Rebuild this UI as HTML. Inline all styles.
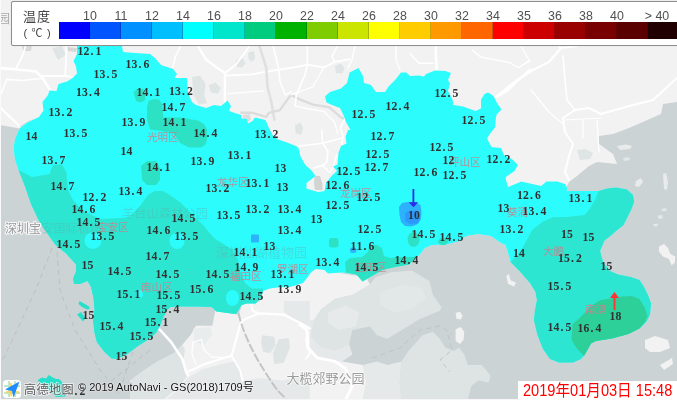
<!DOCTYPE html>
<html lang="zh"><head><meta charset="utf-8"><title>深圳气温分布图</title>
<style>
html,body{margin:0;padding:0;background:#f2f2f2;}
body{width:677px;height:400px;overflow:hidden}
#map{width:677px;height:400px;overflow:hidden;position:relative;background:#f2f2f2;font-family:"Liberation Sans","Noto Sans CJK SC",sans-serif;}
svg{position:absolute;left:0;top:0;display:block}
#legend{position:absolute;left:11px;top:1px;width:680px;height:43px;background:#fff;border:1px solid #8e8e8e;border-radius:2px;box-sizing:content-box;box-shadow:0 0 1px rgba(0,0,0,.2)}
#legend i{position:absolute;top:20.2px;height:16.6px;width:31px;margin-left:-12px;display:block;box-shadow:inset -1px 0 0 rgba(0,0,0,.2)}
#legend b{position:absolute;top:6.6px;width:30px;margin-left:-12px;text-align:center;font-weight:normal;font-size:12.4px;line-height:14px;color:#505050;letter-spacing:0}
#legend .t{position:absolute;left:11px;font-size:14px;line-height:16px;color:#444;white-space:nowrap}
#stamp{position:absolute;left:518px;top:381px;width:160px;height:19px;background:#fff;color:#f00;font-size:14.6px;line-height:20px;white-space:nowrap;text-indent:5px;letter-spacing:0}
#copy{position:absolute;left:78px;top:380px;font-size:11px;line-height:14px;color:#111;white-space:nowrap;text-shadow:0 0 1px #fff,0 0 2px #fff}
</style></head><body>
<div id="map">
<svg width="677" height="400" viewBox="0 0 677 400">
<rect width="677" height="400" fill="#f2f2f2"/>
<g id="bg">
<polygon points="0,125 19.5,128.5 30,150 60,200 100,260 163,300 260,300 260,400 0,400" fill="#ccd3d5"/>
<polygon points="355,270 677,270 677,102 663,104 661,114 629,128 613,134 599,136 599,144 613,154 617,164 597,162 589,166 577,176 569,182 567,186 560,200 500,230 430,240 400,262" fill="#ccd3d5"/>
<rect x="340" y="268" width="337" height="132" fill="#ccd3d5"/>
<polygon points="300,298.5 321,309 335,298.5 352.4,295 369.9,284.5 375.2,277.5 390.9,272.2 411.9,270.5 420.6,275.7 429.4,281 432.9,295 441.6,307.2 439.9,310.7 418.9,319.4 404.9,328.2 387.4,338.7 376.9,335.2 369.9,326.4 352.4,329.9 349,343.9 335,350.9 321,347.4 310.5,336.9 300,340.4" fill="#dee3e3"/>
<polygon points="300,298.5 321,309 314,319.4 310.5,336.9 321,347.4 335,350.9 349,343.9 352.4,354.4 342,361.4 321,359.7 307,347.4 300,343.9" fill="#e5e9e9"/>
<polygon points="401.4,361.4 408.4,350.9 422.4,335.2 432.9,331.7 439.9,338.7 445.1,347.4 453.8,350.9 459.1,347.4 464.3,354.4 467.8,364.9 481.8,364.9 490.6,375.4 488.8,382.4 478.3,380.6 471.3,385.9 467.8,399.9 401.4,399.9 399.7,382.4" fill="#dee3e3"/>
<polygon points="362.9,364.9 376.9,361.4 387.4,364.9 401.4,361.4 399.7,382.4 401.4,399.9 362.9,399.9 366.4,382.4" fill="#e5e9e9"/>
<polygon points="300,361.4 321,359.7 342,361.4 362.9,364.9 366.4,382.4 362.9,399.9 300,399.9" fill="#f2f2f2"/>
<polygon points="300,284.5 310.5,272.2 324.5,270.5 345.5,274 366.4,277.5 369.9,284.5 352.4,295 335,298.5 321,309 314,319.4 300,322.9" fill="#f2f2f2"/>
<polygon points="380.4,291.5 404.9,284.5 422.4,288 425.9,298.5 411.9,309 394.4,312.4 380.4,305.5" fill="#e2e7e7"/>
<polygon points="328,312.4 345.5,305.5 359.4,312.4 355.9,326.4 338.5,329.9 328,322.9" fill="#e6eaea"/>
<polygon points="455.6,313.1 460.1,311.7 462.6,315.9 460.8,319.4 456.6,318.7" fill="#f2f2f2"/>
<polygon points="455.6,329.2 460.8,327.1 464.3,331.7 463.6,339.7 460.1,343.9 455.6,341.1" fill="#f2f2f2"/>
<polygon points="506.3,275.7 509.1,274 510.5,280.3 516.1,282.7 514,286.6 508,283.8" fill="#f2f2f2"/>
<polygon points="130,380.7 141,372.4 157.5,361.4 174,353.2 182.2,344.9 190.4,335.3 195.9,325.7 212.4,325.7 215.2,310.6 238.5,314.7 242.6,303.7 250.9,302.4 261.9,301 309.9,301 309.9,399.9 130,399.9" fill="#f2f2f2"/>
<polygon points="130,380.7 141,372.4 157.5,361.4 174,353.2 182.2,344.9 184.9,349.1 183.6,361.4 187.7,375.2 179.5,386.2 163,399.9 130,399.9" fill="#dee3e3"/>
<polygon points="187.7,377.9 201.4,369.7 220.7,364.2 234.4,361.4 239.9,372.4 242.6,388.9 239.9,399.9 165.7,399.9 179.5,388.9" fill="#e5e9e9"/>
<polygon points="261.9,335.3 274.2,336.7 275.6,344.9 270.1,353.2 263.2,351.8 261.3,343.6" fill="#dee3e3"/>
<polygon points="278.4,339.5 288.8,338.1 289.9,347.7 283.8,362.8 274.2,364.2 272.9,353.2" fill="#dee3e3"/>
<polygon points="242.6,380.7 259.1,377.9 283.8,380.7 300.3,375.2 309.9,372.4 309.9,399.9 239.9,399.9" fill="#e5e9e9"/>
<polygon points="283.8,301 309.9,301 309.9,331.2 300.3,325.7 292.1,317.5 283.8,312" fill="#e5e9e9"/>
<polygon points="193.2,328.5 209.7,327.1 212.4,334 204.2,344.9 194.6,342.2" fill="#e8ecec"/>
<polygon points="617,146 626,144.5 632,146 630,149 620,150" fill="#e9ebeb"/>
<polygon points="636,181 641,178 643,182 639,187 635,186" fill="#e9ebeb"/>
<polygon points="663,174 666,173 668,182 667,190 664,189" fill="#e9ebeb"/>
<polygon points="623,158 629,157 630,160 624,161" fill="#e3e6e6"/>
<polygon points="659,246.5 664,244 667.8,247.7 670.3,254 675.3,256.5 674.8,262.8 671.6,265.3 669.1,259 662.8,256.5 659,251.5" fill="#f2f2f2"/>
<polygon points="653.5,224.1 657.8,223.4 658,226.1 654,226.6" fill="#e6e8e8"/>
<polygon points="661.5,208.8 666.3,208.3 666.5,211.1 662,211.3" fill="#e6e8e8"/>
<polygon points="657.8,215.6 662.3,215.1 662.8,218.6 658.3,218.8" fill="#e6e8e8"/>
<polygon points="645,340 655,336 668,340 670,348 660,352 650,352 645,348" fill="#f2f2f2"/>
<polygon points="660,365 672,358 673,364 664,370" fill="#f2f2f2"/>
<polygon points="192,77.1 200.2,75.7 205.7,84 204.3,94.9 207.1,103.2 198.8,104.6 193.4,94.9" fill="#dfe5e5"/>
<polygon points="208.5,85.3 215.3,82.6 220.8,88.1 218.1,93.6 211.2,92.7" fill="#dfe5e5"/>
<polygon points="235.9,60.6 242.8,57.9 245.5,63.4 242,67.5 236.8,66.9" fill="#dfe5e5"/>
<polygon points="248.3,52.4 253.8,51 255.2,57.9 251.9,62 248.6,58.7" fill="#dfe5e5"/>
<polygon points="334.8,66.1 340.3,63.4 344.5,67.5 342.5,73.5 336.2,73" fill="#dfe5e5"/>
<polygon points="295,125.2 300.5,122.4 303.2,127.9 301.3,134.8 295.8,133.4" fill="#dfe5e5"/>
<polygon points="242.8,114.7 249.7,114.2 251,119.7 246.4,123 242.8,120.2" fill="#dcdcdc"/>
<polygon points="577,150 585,149 593,153 590,159 580,160" fill="#dfe5e5"/>
<polygon points="52,48 62,46 66,55 58,60" fill="#dfe5e5"/>
<polygon points="22,46 32,46 31,51 23,51" fill="#dadada"/>
<polygon points="67,47 77,48 76,52 68,51" fill="#d6d6d6"/>
<polygon points="314.5,176 320,176 322.5,184 322.5,190 315,190 314,184" fill="#d2d4d4"/>
<path d="M0 68.1 L15.7 69.2 L36 71.5 L42.7 78.2 L50.6 90.6" stroke="#fff" stroke-width="2.6" fill="none" stroke-linecap="round" stroke-linejoin="round" />
<path d="M15.7 69.2 L22.5 55.7 L24.7 49 L25.9 44.5" stroke="#fff" stroke-width="1.8" fill="none" stroke-linecap="round" stroke-linejoin="round" />
<path d="M0 96.2 L6.7 79.4 L22.5 80.5 L42.7 78.2" stroke="#fff" stroke-width="1.6" fill="none" stroke-linecap="round" stroke-linejoin="round" />
<path d="M42.7 76 L65.2 76 L74.2 77.1" stroke="#fff" stroke-width="1.8" fill="none" stroke-linecap="round" stroke-linejoin="round" />
<path d="M66.4 44.5 L66.4 49 L65.2 76" stroke="#fff" stroke-width="1.8" fill="none" stroke-linecap="round" stroke-linejoin="round" />
<path d="M0 107.5 L20.2 126.6" stroke="#fff" stroke-width="2.2" fill="none" stroke-linecap="round" stroke-linejoin="round" />
<path d="M20.2 126.6 L29.2 121.4 L40.5 117.6" stroke="#dcdcdc" stroke-width="1.4" fill="none" stroke-linecap="round" stroke-linejoin="round" />
<path d="M181 45.5 L175.5 56.5 L172.7 67.5" stroke="#fff" stroke-width="1.6" fill="none" stroke-linecap="round" stroke-linejoin="round" />
<path d="M197.5 45.5 L205.7 59.2 L216.7 67.5 L224.9 73 L224.9 103.2" stroke="#fff" stroke-width="2.4" fill="none" stroke-linecap="round" stroke-linejoin="round" />
<path d="M224.9 73 L235.9 64.7 L244.2 53.7 L249.7 45.5" stroke="#fff" stroke-width="1.8" fill="none" stroke-linecap="round" stroke-linejoin="round" />
<path d="M224.9 75.7 L252.4 74.3 L266.2 71.6 L293.6 67.5 L307.4 64.7 L323.8 67.5 L334.8 62 L349.9 59.2" stroke="#fff" stroke-width="1.8" fill="none" stroke-linecap="round" stroke-linejoin="round" />
<path d="M259.3 45.5 L266.2 67.5 L267.5 86.7 L271.6 103.2 L274.4 119.7" stroke="#e0e0e0" stroke-width="2.6" fill="none" stroke-linecap="round" stroke-linejoin="round" />
<path d="M273 45.5 L278.5 67.5 L279.9 81.2 L285.4 94.9 L290.9 92.2" stroke="#fff" stroke-width="1.6" fill="none" stroke-linecap="round" stroke-linejoin="round" />
<path d="M241.4 112.8 L252.4 112.8 L266.2 116.9 L268.9 112.8 L279.9 110.1 L290.9 94.9 L299.1 99.1 L312.9 104.6 L329.3 107.3 L340.3 116.9 L345.8 119.7" stroke="#dcdcdc" stroke-width="2.4" fill="none" stroke-linecap="round" stroke-linejoin="round" />
<path d="M307.4 45.5 L307.4 64.7 L304.6 75.7 L296.4 94.9 L295 105.9" stroke="#fff" stroke-width="1.6" fill="none" stroke-linecap="round" stroke-linejoin="round" />
<path d="M337.6 45.5 L332.1 56.5 L334.8 62" stroke="#fff" stroke-width="1.6" fill="none" stroke-linecap="round" stroke-linejoin="round" />
<path d="M345.8 116.9 L340.3 127.9 L343.1 136.2 L341.7 144.4" stroke="#fff" stroke-width="1.6" fill="none" stroke-linecap="round" stroke-linejoin="round" />
<path d="M227.7 93.6 L246.9 92.2 L263.4 90.8" stroke="#fff" stroke-width="1.2" fill="none" stroke-linecap="round" stroke-linejoin="round" />
<path d="M290.9 94.9 L312.9 86.7 L323.8 67.5" stroke="#fff" stroke-width="1.2" fill="none" stroke-linecap="round" stroke-linejoin="round" />
<path d="M295 105.9 L307.4 108.7 L323.8 111.4 L334.8 122.4 L337.6 133.4" stroke="#fff" stroke-width="1.4" fill="none" stroke-linecap="round" stroke-linejoin="round" />
<path d="M299.5 146 L322.6 143.3 L342.1 138" stroke="#fff" stroke-width="1.6" fill="none" stroke-linecap="round" stroke-linejoin="round" />
<path d="M321.7 130 L322.6 143.3 L327.9 151.3 L327 161.9 L322.6 165.5 L313.7 168.1" stroke="#fff" stroke-width="1.6" fill="none" stroke-linecap="round" stroke-linejoin="round" />
<path d="M322.6 165.5 L329.6 172.6 L333.2 167.2 L336.7 154.8" stroke="#fff" stroke-width="1.4" fill="none" stroke-linecap="round" stroke-linejoin="round" />
<path d="M435.7 44.7 L435.7 50 L436.6 69.5" stroke="#fff" stroke-width="2.4" fill="none" stroke-linecap="round" stroke-linejoin="round" />
<path d="M410 53.5 L418.9 63.3 L433 63.3" stroke="#fff" stroke-width="1.4" fill="none" stroke-linecap="round" stroke-linejoin="round" />
<path d="M472.1 50 L480.9 57.1 L509.3 62.4 L518.2 67.7 L530 60.6" stroke="#fff" stroke-width="1.4" fill="none" stroke-linecap="round" stroke-linejoin="round" />
<path d="M530 69.5 L516.4 81.9 L507.5 90.8 L495.1 97.9" stroke="#fff" stroke-width="2.2" fill="none" stroke-linecap="round" stroke-linejoin="round" />
<path d="M396 46 L396 60 L400 70" stroke="#fff" stroke-width="1.4" fill="none" stroke-linecap="round" stroke-linejoin="round" />
<path d="M355 46 L352 60 L348 68" stroke="#fff" stroke-width="1.4" fill="none" stroke-linecap="round" stroke-linejoin="round" />
<path d="M561 48 L549 62 L533 70 L517 80 L497 96" stroke="#fff" stroke-width="2.2" fill="none" stroke-linecap="round" stroke-linejoin="round" />
<path d="M557 44 L561 48 L577 46" stroke="#fff" stroke-width="2" fill="none" stroke-linecap="round" stroke-linejoin="round" />
<path d="M563 56 L565 80 L567 100 L575 110" stroke="#fff" stroke-width="1.6" fill="none" stroke-linecap="round" stroke-linejoin="round" />
<path d="M563 118 L575 110 L589 108 L601 114 L629 106 L653 100 L677 78" stroke="#fff" stroke-width="2" fill="none" stroke-linecap="round" stroke-linejoin="round" />
<path d="M563 118 L565 132 L573 144 L569 156 L565 172 L569 180" stroke="#fff" stroke-width="2" fill="none" stroke-linecap="round" stroke-linejoin="round" />
<path d="M565 120 L601 118" stroke="#fff" stroke-width="1.2" fill="none" stroke-linecap="round" stroke-linejoin="round" />
<path d="M583 120 L583 138" stroke="#fff" stroke-width="1.2" fill="none" stroke-linecap="round" stroke-linejoin="round" />
<path d="M597 120 L599 152" stroke="#fff" stroke-width="1.2" fill="none" stroke-linecap="round" stroke-linejoin="round" />
<path d="M531 90 L549 112 L563 124" stroke="#fff" stroke-width="1.4" fill="none" stroke-linecap="round" stroke-linejoin="round" />
<path d="M521 46 L529 60 L525 64" stroke="#fff" stroke-width="1.2" fill="none" stroke-linecap="round" stroke-linejoin="round" />
<path d="M158.8 328.5 L171.2 342.2 L182.2 358.7 L186.3 372.4 L187.7 375.2" stroke="#fff" stroke-width="2.6" fill="none" stroke-linecap="round" stroke-linejoin="round" />
<path d="M186.3 372.4 L204.2 364.2 L226.2 357.3 L231.6 355.9 L239.9 325.7 L242.6 320.2 L259.1 313.4 L283.8 314.7 L300.3 323 L309.9 328.5" stroke="#fff" stroke-width="2.2" fill="none" stroke-linecap="round" stroke-linejoin="round" />
<path d="M231.6 355.9 L239.9 369.7 L242.6 380.7" stroke="#fff" stroke-width="1.8" fill="none" stroke-linecap="round" stroke-linejoin="round" />
<path d="M193.2 342.2 L201.4 339.5 L204.2 350.4 L212.4 357.3 L226.2 357.3" stroke="#fff" stroke-width="1.2" fill="none" stroke-linecap="round" stroke-linejoin="round" />
<path d="M193.2 342.2 L191.8 353.2 L195.9 364.2" stroke="#fff" stroke-width="1.2" fill="none" stroke-linecap="round" stroke-linejoin="round" />
<path d="M250.9 302.4 L252.3 310.6 L259.1 313.4" stroke="#fff" stroke-width="2" fill="none" stroke-linecap="round" stroke-linejoin="round" />
<path d="M305.8 339.5 L309.9 353.2 L305.8 358.7" stroke="#fff" stroke-width="1.8" fill="none" stroke-linecap="round" stroke-linejoin="round" />
<path d="M238.5 313 C242 330 252 352 267 375 S280 392 286 399" stroke="#c4c6c6" stroke-width="2" fill="none" stroke-dasharray="9 2"/>
<path d="M300 324.7 L307 329.9 L307.7 347.4 L317.5 357.9 L335 361.4 L345.5 368.4 L352.4 385.9 L345.5 399.9" stroke="#fff" stroke-width="3" fill="none" stroke-linecap="round" stroke-linejoin="round" />
<path d="M52 248 L37 287 L10 345 L0 365 M57 252 L60 290 L75 330 L100 370 L120 395 M150 350 L100 390 M133 352 L120 390" stroke="#bcbcbe" stroke-width="0.9" fill="none" stroke-dasharray="5 4"/>
<path d="M372 358 L400 348 L420 330 L440 326 L452 334 M448 335 L452 350 L440 360 L450 372" stroke="#bfc4c4" stroke-width="1" fill="none" stroke-dasharray="5 4"/>
</g>
<polygon points="77,40 122,40 122,46 123,52 135.5,53 150,54 155,58 161,65 173,69 177,74 174.5,78 187,78 188,93 192,102 196,105 206,108 214,105 221,106 227.5,100.5 231,106 229,111 241,115 241.5,118.5 247,119 248,123.5 252.5,121 255,117.5 265.5,120 268.5,127 272.5,135 278,139.5 287,142.5 296,146 298.5,148 300.5,156.5 305,164.5 312,171 315.5,176 306.5,183 306.5,188.5 318,192 324.5,191 326,183 331.5,176 337,171 333,166.5 337.5,164.5 338.5,153 341,146 346.5,143.5 345.5,137 348,130 350.5,130 346,122 343.5,115 340,108 332,105 326.5,102.5 325,96.5 330,92 341,88.5 347,83 349.5,72.5 358.5,68 363,76 364,83 371,85 376,92 385,92 388.5,86.5 395.5,79.5 401,72.5 406.5,72.5 410,76 419,75.5 424,76.5 426,74 435,70.5 445.5,71 451,73 448,80 450,83.5 448,91 452.5,99.5 453.5,105 463,106.5 475.5,111 481,108.5 481,99.5 484.5,94 488,92.5 493.5,96 497,103 501.5,109.5 497,114 496,117 495,127.5 490.5,133 487,138.5 491.5,147 501,148 504,155 512.5,159.5 518,165 514.5,171 506.5,176.5 505.5,178 508,187 521.5,181.5 541,186 546.5,181.5 557.5,181.5 565,184 567.5,188.5 566.5,191 598.5,191 607.5,188.5 616,187.5 627,189.5 633,195 634,202 631.5,209 627,218 623.5,225 616,231 611,235.5 604.5,240.5 600,251 603,262 610,271 618,274.5 630.5,277 639.5,280 643.5,286 648,295 651,303.5 650,314.5 646.5,321.5 639.5,328.5 628.5,334 612,338.5 596,341 591,343.5 588,349 584.5,355 581,359 573,362.5 559,362.5 550,359 543,349 537.5,335 534,320.5 535,310 537,300 535.5,292 530,283 519.5,271 510.5,262 508,253 505.5,245 500,242.5 491,236 478,234 466,236 460,241 446.5,244.5 432,245 425,248 418,256.5 409,264.5 393,267.5 382.5,270 373,275.5 362.5,281.5 356.5,274.5 342,272.5 328,273.5 324.5,270 315.5,269 311,272.5 307,278 303,283 290,287 277,287.5 270,288.5 263,291 261,298 255.5,303.5 247,303.5 241.5,305 239,309.5 236,314 227.5,313 216.5,311.5 211.5,307 195.5,306.5 180,306.5 170.5,307 166.5,311 163,318 160,326 156,333 148.5,339.5 138,346 127.5,354 117,359 111.5,358.5 104.5,352 97,342.5 94.5,333 93,321 94.5,310 93.5,298 91,287 87.5,281 80,284 74,284 73,278.5 76,271.5 76,264.5 66,253.5 55.5,245 46.5,232.5 38.5,220 31,204 25,186.5 18.5,170 15,160 13.5,148 15,139 19.5,128.5 26.5,123 39,117 43.5,110.5 42.5,102 48,95 49.5,90.5 56.5,91 58.5,84 67,81.5 72.5,78 77,73.5 76,66.5 73.5,61 77,54" fill="#f2f2f2"/>
<g id="ov" opacity="0.81">
<polygon points="77,40 122,40 122,46 123,52 135.5,53 150,54 155,58 161,65 173,69 177,74 174.5,78 187,78 188,93 192,102 196,105 206,108 214,105 221,106 227.5,100.5 231,106 229,111 241,115 241.5,118.5 247,119 248,123.5 252.5,121 255,117.5 265.5,120 268.5,127 272.5,135 278,139.5 287,142.5 296,146 298.5,148 300.5,156.5 305,164.5 312,171 315.5,176 306.5,183 306.5,188.5 318,192 324.5,191 326,183 331.5,176 337,171 333,166.5 337.5,164.5 338.5,153 341,146 346.5,143.5 345.5,137 348,130 350.5,130 346,122 343.5,115 340,108 332,105 326.5,102.5 325,96.5 330,92 341,88.5 347,83 349.5,72.5 358.5,68 363,76 364,83 371,85 376,92 385,92 388.5,86.5 395.5,79.5 401,72.5 406.5,72.5 410,76 419,75.5 424,76.5 426,74 435,70.5 445.5,71 451,73 448,80 450,83.5 448,91 452.5,99.5 453.5,105 463,106.5 475.5,111 481,108.5 481,99.5 484.5,94 488,92.5 493.5,96 497,103 501.5,109.5 497,114 496,117 495,127.5 490.5,133 487,138.5 491.5,147 501,148 504,155 512.5,159.5 518,165 514.5,171 506.5,176.5 505.5,178 508,187 521.5,181.5 541,186 546.5,181.5 557.5,181.5 565,184 567.5,188.5 566.5,191 598.5,191 607.5,188.5 616,187.5 627,189.5 633,195 634,202 631.5,209 627,218 623.5,225 616,231 611,235.5 604.5,240.5 600,251 603,262 610,271 618,274.5 630.5,277 639.5,280 643.5,286 648,295 651,303.5 650,314.5 646.5,321.5 639.5,328.5 628.5,334 612,338.5 596,341 591,343.5 588,349 584.5,355 581,359 573,362.5 559,362.5 550,359 543,349 537.5,335 534,320.5 535,310 537,300 535.5,292 530,283 519.5,271 510.5,262 508,253 505.5,245 500,242.5 491,236 478,234 466,236 460,241 446.5,244.5 432,245 425,248 418,256.5 409,264.5 393,267.5 382.5,270 373,275.5 362.5,281.5 356.5,274.5 342,272.5 328,273.5 324.5,270 315.5,269 311,272.5 307,278 303,283 290,287 277,287.5 270,288.5 263,291 261,298 255.5,303.5 247,303.5 241.5,305 239,309.5 236,314 227.5,313 216.5,311.5 211.5,307 195.5,306.5 180,306.5 170.5,307 166.5,311 163,318 160,326 156,333 148.5,339.5 138,346 127.5,354 117,359 111.5,358.5 104.5,352 97,342.5 94.5,333 93,321 94.5,310 93.5,298 91,287 87.5,281 80,284 74,284 73,278.5 76,271.5 76,264.5 66,253.5 55.5,245 46.5,232.5 38.5,220 31,204 25,186.5 18.5,170 15,160 13.5,148 15,139 19.5,128.5 26.5,123 39,117 43.5,110.5 42.5,102 48,95 49.5,90.5 56.5,91 58.5,84 67,81.5 72.5,78 77,73.5 76,66.5 73.5,61 77,54" fill="#00ffff"/>
<polygon points="79.5,301 84,303.5 89,306.5 89.6,309 87,309.6 82,307 78.5,304" fill="#00e4cb"/>
<polygon points="77,314.5 81,312 85.5,318 83,321.5" fill="#00e4cb"/>
<polygon points="37.7,380 42,377.5 46,378.5 48.7,375 52,377 56,379 59,379 62,382 63.5,385 65,389 66.5,392 65,396.6 56,397 53,394 51.7,392 47,388 44,385 40,383.5" fill="#00e4cb"/>
<polygon points="18.5,170 32,177 49.5,174 53,165 62,164.5 66.5,172.5 68,190 73,200 83,211 100,219 121,218 129,217 140,206 148,195 155,191 163,191 170,195 181,203 192,214 203,225 214,238 233,250 238,260 240,270.5 245,283 252,288.5 263,288.5 263,291 261,298 255.5,303.5 247,303.5 241.5,305 239,309.5 236,314 227.5,313 216.5,311.5 211.5,307 195.5,306.5 180,306.5 170.5,307 166.5,311 163,318 160,326 156,333 148.5,339.5 138,346 127.5,354 117,359 111.5,358.5 104.5,352 97,342.5 94.5,333 93,321 94.5,310 93.5,298 91,287 87.5,281 80,284 74,284 73,278.5 76,271.5 76,264.5 66,253.5 55.5,245 46.5,232.5 38.5,220 31,204 25,186.5" fill="#00e4cb"/>
<ellipse cx="93" cy="240.5" rx="8.5" ry="8.5" fill="#00ffff"/>
<ellipse cx="177" cy="241" rx="7.5" ry="8" fill="#00ffff"/>
<ellipse cx="232.5" cy="298" rx="6.5" ry="8" fill="#00ffff"/>
<ellipse cx="139.5" cy="294" rx="3.5" ry="4" fill="#00ffff"/>
<ellipse cx="253" cy="283" rx="5" ry="5" fill="#00ffff"/>
<polygon points="148.5,101 153,99.3 159,99.5 162,104 163.5,117.5 180,117.5 198,120.5 204,124 207,129.5 207,140 205,145 201,147.5 189,147.5 180,143 174,134 162,131 150,129.5 147,119 147,107" fill="#00dfba"/>
<polygon points="133.5,92 137,89 143,89 145.5,93 145,100 141,102.5 136,101" fill="#00dfba"/>
<polygon points="141,166 147,161 156,161 160,168 160,180 156,185 147,185 142,180" fill="#00dfba"/>
<polygon points="148,200 150,194 155,191.5 163,191.5 168,195 170,200" fill="#00e4cb"/>
<polygon points="598.5,191 607.5,188.5 616,187.5 627,189.5 633,195 634,202 631.5,209 627,218 623.5,225 616,231 611,235.5 604.5,240.5 600,251 603,262 610,271 618,274.5 630.5,277 639.5,280 643.5,286 648,295 651,303.5 650,314.5 646.5,321.5 639.5,328.5 628.5,334 612,338.5 596,341 591,343.5 588,349 584.5,355 581,359 573,362.5 559,362.5 550,359 543,349 537.5,335 534,320.5 535,310 537,300 535.5,292 530,283 519.5,271 510.5,262 519.5,253 526.5,240.5 532,230 543,221.5 553.5,217 566.5,217 584.5,215 589.5,209 595,200" fill="#00e4cb"/>
<polygon points="585.5,312 591.5,305.5 600.5,300 611,298.5 621.5,296.5 632,296 639.5,299 644.5,307 647.5,316 644.5,322.5 639.5,328.5 628.5,334 612,338.5 596,341 591,343.5 588,349 584,356 576.5,348 571.5,340 572.5,324 578.5,319" fill="#00c985"/>
<polygon points="345,262 350,258 362,257 368,252 369,246 376,244.5 382,248 384,256 390,258 400,257 409,257 418,256.5 409,264.5 393,267.5 382.5,270 373,275.5 362.5,281.5 356.5,274.5 346,272.5" fill="#00dfba"/>
<ellipse cx="413.5" cy="239.5" rx="6" ry="7.5" fill="#00dfba"/>
<ellipse cx="443" cy="241.5" rx="5" ry="3.5" fill="#00dfba"/>
<rect x="329" y="238" width="9.5" height="9.5" rx="2.5" fill="#00dfba"/>
<rect x="251" y="234.5" width="8" height="8" rx="1" fill="#00a4ff"/>
<rect x="350" y="247.5" width="6.5" height="5.5" rx="2" fill="#00a8ff"/>
<polygon points="399,207 402,203 408,202 416,202.5 420.5,205 421.5,212 421,219 418,224 412,226.5 405,226 401,222 399.5,215" fill="#00a2ff"/>
<polygon points="405,214 408,211 415,210.5 419.5,212 420,219 417,223.5 410,224 405.5,221" fill="#0084ff"/>
</g>
<path d="M413.4 189V203" stroke="#2a2af0" stroke-width="1.8" fill="none"/><path d="M408.8 202.2H418.2L413.5 207.2Z" fill="#2a2af0"/><path d="M614.5 297V310" stroke="#f33" stroke-width="1.8" fill="none"/><path d="M610 298H619L614.5 292Z" fill="#f33"/>
<g font-family="'Liberation Sans','Noto Sans CJK SC',sans-serif"><text x="147" y="141" font-size="10.5" fill="#c6838e" opacity="0.88" >光明区</text><text x="217" y="186.2" font-size="10.5" fill="#c6838e" opacity="0.88" >龙华区</text><text x="340" y="196.5" font-size="10.5" fill="#c6838e" opacity="0.88" >龙岗区</text><text x="449" y="166" font-size="10.5" fill="#c6838e" opacity="0.88" >坪山区</text><text x="97" y="230.5" font-size="10.5" fill="#c6838e" opacity="0.88" >宝安区</text><text x="141" y="290.5" font-size="10.5" fill="#c6838e" opacity="0.88" >南山区</text><text x="230" y="279.7" font-size="10.5" fill="#c6838e" opacity="0.88" >福田区</text><text x="277" y="273" font-size="10.5" fill="#c6838e" opacity="0.88" >罗湖区</text><text x="355" y="270.5" font-size="10.5" fill="#c6838e" opacity="0.88" >盐田区</text><text x="543" y="255" font-size="10.5" fill="#c6838e" opacity="0.88" >大鹏</text><text x="585" y="313" font-size="10.5" fill="#c6838e" opacity="0.88" >南澳</text><text x="507" y="215.5" font-size="10.5" fill="#c6838e" opacity="0.88" >葵涌</text><text x="41.6" y="232.5" font-size="12" fill="#6a9a9a" opacity="0.3">安国际机场</text><text x="122" y="218" font-size="12.3" fill="#6a9a9a" opacity="0.3">羊台山森林公园</text><text x="216" y="257" font-size="13" fill="#6a9a9a" opacity="0.3">深圳仙湖植物园</text><text x="5" y="232.5" font-size="12" fill="#9a9a9a" stroke="#fff" stroke-width="2" stroke-opacity="0.8" paint-order="stroke">深圳宝</text><text x="286.5" y="382.6" font-size="13" fill="#9c9c9c" stroke="#fff" stroke-width="1.6" stroke-opacity="0.7" paint-order="stroke">大榄郊野公园</text><text x="-2" y="23" font-size="12" fill="#999" opacity="0.8">园</text></g>
<g font-family="'Liberation Serif',serif" font-weight="bold" font-size="11.7" fill="#303030"><text x="77.4 83.4 90.4 95.4" y="55.1">12.1</text><text x="125.4 131.4 138.4 143.4" y="68.1">13.6</text><text x="93.4 99.4 106.4 111.4" y="78.1">13.5</text><text x="75.9 81.9 88.9 93.9" y="96.1">13.4</text><text x="136.4 142.4 149.4 154.4" y="95.6">14.1</text><text x="168.9 174.9 181.9 186.9" y="95.1">13.2</text><text x="161.4 167.4 174.4 179.4" y="110.6">14.7</text><text x="48.4 54.4 61.4 66.4" y="116.1">13.2</text><text x="121.4 127.4 134.4 139.4" y="126.1">13.9</text><text x="162.4 168.4 175.4 180.4" y="126.1">14.1</text><text x="25.4 31.4" y="140.1">14</text><text x="63.4 69.4 76.4 81.4" y="137.1">13.5</text><text x="193.4 199.4 206.4 211.4" y="137.1">14.4</text><text x="254.4 260.4 267.4 272.4" y="137.6">13.2</text><text x="120.4 126.4" y="155.1">14</text><text x="41.4 47.4 54.4 59.4" y="164.1">13.7</text><text x="227.4 233.4 240.4 245.4" y="159.1">13.1</text><text x="190.4 196.4 203.4 208.4" y="165.1">13.9</text><text x="146.4 152.4 159.4 164.4" y="171.1">14.1</text><text x="274.4 280.4" y="172.1">13</text><text x="50.4 56.4 63.4 68.4" y="190.1">14.7</text><text x="245.4 251.4 258.4 263.4" y="187.1">13.1</text><text x="276.4 282.4" y="191.1">13</text><text x="205.4 211.4 218.4 223.4" y="192.1">13.2</text><text x="118.4 124.4 131.4 136.4" y="195.1">13.4</text><text x="82.4 88.4 95.4 100.4" y="201.1">12.2</text><text x="325.4 331.4 338.4 343.4" y="189.1">12.6</text><text x="325.4 331.4 338.4 343.4" y="209.1">12.5</text><text x="356.4 362.4 369.4 374.4" y="201.1">12.5</text><text x="310.4 316.4" y="222.6">13</text><text x="434.4 440.4 447.4 452.4" y="97.1">12.5</text><text x="385.4 391.4 398.4 403.4" y="110.1">12.4</text><text x="351.4 357.4 364.4 369.4" y="118.1">12.5</text><text x="461.4 467.4 474.4 479.4" y="123.6">12.5</text><text x="370.4 376.4 383.4 388.4" y="140.1">12.7</text><text x="429.4 435.4 442.4 447.4" y="151.1">12.5</text><text x="365.4 371.4 378.4 383.4" y="158.1">12.5</text><text x="442.4 448.4" y="164.1">12</text><text x="486.4 492.4 499.4 504.4" y="163.1">12.2</text><text x="364.4 370.4 377.4 382.4" y="171.1">12.7</text><text x="336.4 342.4 349.4 354.4" y="175.1">12.5</text><text x="413.4 419.4 426.4 431.4" y="176.1">12.6</text><text x="442.4 448.4 455.4 460.4" y="179.1">12.5</text><text x="516.9 522.9 529.9 534.9" y="198.6">12.6</text><text x="568.4 574.4 581.4 586.4" y="202.1">13.1</text><text x="71.4 77.4 84.4 89.4" y="213.1">14.6</text><text x="76.4 82.4 89.4 94.4" y="225.6">14.5</text><text x="90.4 96.4 103.4 108.4" y="240.1">13.5</text><text x="56.4 62.4 69.4 74.4" y="248.1">14.5</text><text x="171.4 177.4 184.4 189.4" y="221.6">14.5</text><text x="146.4 152.4 159.4 164.4" y="234.1">14.6</text><text x="174.4 180.4 187.4 192.4" y="240.1">13.5</text><text x="216.4 222.4 229.4 234.4" y="219.1">13.5</text><text x="245.4 251.4 258.4 263.4" y="213.1">13.2</text><text x="277.4 283.4 290.4 295.4" y="213.1">13.4</text><text x="277.4 283.4 290.4 295.4" y="234.1">13.4</text><text x="145.4 151.4 158.4 163.4" y="260.1">14.7</text><text x="263.4 269.4" y="250.1">13</text><text x="233.4 239.4 246.4 251.4" y="256.1">14.1</text><text x="81.4 87.4" y="269.1">15</text><text x="107.4 113.4 120.4 125.4" y="275.1">14.5</text><text x="155.4 161.4 168.4 173.4" y="278.1">14.5</text><text x="234.4 240.4 247.4 252.4" y="271.1">14.9</text><text x="315.4 321.4 328.4 333.4" y="266.1">13.4</text><text x="270.4 276.4 283.4 288.4" y="278.1">13.1</text><text x="205.4 211.4 218.4 223.4" y="278.1">14.5</text><text x="116.4 122.4 129.4 134.4" y="298.1">15.1</text><text x="156.4 162.4 169.4 174.4" y="299.1">15.5</text><text x="189.4 195.4 202.4 207.4" y="293.1">15.6</text><text x="239.4 245.4 252.4 257.4" y="299.6">14.5</text><text x="277.4 283.4 290.4 295.4" y="293.1">13.9</text><text x="155.4 161.4 168.4 173.4" y="313.1">15.4</text><text x="82.4 88.4" y="318.6">15</text><text x="144.4 150.4 157.4 162.4" y="325.6">15.1</text><text x="99.4 105.4 112.4 117.4" y="330.1">15.4</text><text x="129.4 135.4 142.4 147.4" y="339.6">15.5</text><text x="115.4 121.4" y="360.1">15</text><text x="408 414" y="218.7">10</text><text x="357.4 363.4 370.4 375.4" y="233.1">12.5</text><text x="411.4 417.4 424.4 429.4" y="238.1">14.5</text><text x="439.4 445.4 452.4 457.4" y="241.1">14.5</text><text x="350.4 356.4 363.4 368.4" y="250.1">11.6</text><text x="394.4 400.4 407.4 412.4" y="264.1">14.4</text><text x="354.4 360.4 367.4 372.4" y="271.1">14.5</text><text x="497.4 503.4" y="211.6">13</text><text x="522.4 528.4 535.4 540.4" y="215.1">13.4</text><text x="499.4 505.4 512.4 517.4" y="233.1">13.2</text><text x="512.9 518.9" y="257.1">14</text><text x="560.9 566.9" y="237.6">15</text><text x="582.4 588.4" y="240.6">15</text><text x="557.9 563.9 570.9 575.9" y="262.1">15.2</text><text x="600.4 606.4" y="269.6">15</text><text x="547.4 553.4 560.4 565.4" y="290.1">15.5</text><text x="609.4 615.4" y="320.1">18</text><text x="547.4 553.4 560.4 565.4" y="330.6">14.5</text><text x="577.4 583.4 590.4 595.4" y="331.6">16.4</text><text x="61.4 67.4 74.4 79.4" y="395.1">15.2</text></g>
<g id="logo">
<rect x="3" y="380" width="18" height="18" rx="3.5" fill="#fff"/>
<path d="M4 386h16M4 393h16M9 381v16M15 381v16" stroke="#bfe6c8" stroke-width="2.2"/>
<path d="M6 392h13M11 383v13" stroke="#ffd24a" stroke-width="1.6"/>
<path d="M19.5 381.5 L5 389.5 L12 391 L13.5 397.5 Z" fill="#1e8cff"/>
<text x="24" y="394" font-family="'Liberation Sans','Noto Sans CJK SC',sans-serif" font-size="12.2" letter-spacing="0.3" fill="#5c5c5c" stroke="#fff" stroke-width="1.6" paint-order="stroke" stroke-opacity=".75">高德地图</text>
</g>
</svg>
<div id="copy">© 2019 AutoNavi - GS(2018)1709号</div>
<div id="legend"><span class="t" style="top:6.7px;font-size:13px;letter-spacing:1px">温度</span><span class="t" style="top:23.3px;font-size:11px;letter-spacing:0.7px;left:11.5px">( ℃ )</span><i style="left:59px;background:#0000ff"></i><i style="left:90px;background:#0055ff"></i><i style="left:121px;background:#0090ff"></i><i style="left:152px;background:#00bfff"></i><i style="left:183px;background:#00ffff"></i><i style="left:214px;background:#00e6cc"></i><i style="left:245px;background:#00cc7f"></i><i style="left:276px;background:#00b200"></i><i style="left:307px;background:#7fcc00"></i><i style="left:338px;background:#cce500"></i><i style="left:369px;background:#ffff00"></i><i style="left:400px;background:#ffcc00"></i><i style="left:431px;background:#ff9900"></i><i style="left:462px;background:#ff6600"></i><i style="left:493px;background:#ff0000"></i><i style="left:524px;background:#cc0000"></i><i style="left:555px;background:#990000"></i><i style="left:586px;background:#780000"></i><i style="left:617px;background:#5a0000"></i><i style="left:648px;background:#200000"></i><b style="left:75px">10</b><b style="left:106px">11</b><b style="left:137px">12</b><b style="left:168px">14</b><b style="left:199px">16</b><b style="left:230px">18</b><b style="left:261px">20</b><b style="left:292px">22</b><b style="left:323px">24</b><b style="left:354px">26</b><b style="left:385px">28</b><b style="left:416px">30</b><b style="left:447px">32</b><b style="left:478px">34</b><b style="left:509px">35</b><b style="left:540px">36</b><b style="left:571px">38</b><b style="left:602px">40</b><b style="left:637px;width:40px">&gt; 40</b></div>
<div style="position:absolute;left:0;top:0;width:1px;height:400px;background:#fafafa"></div><div style="position:absolute;left:0;top:399px;width:677px;height:1px;background:#f6f6f6"></div>
<div id="stamp"><span style="display:inline-block;text-indent:0;transform:scale(1,1.1);transform-origin:0 85%">2019年01月03日 15:48</span></div>
</div>
</body></html>
